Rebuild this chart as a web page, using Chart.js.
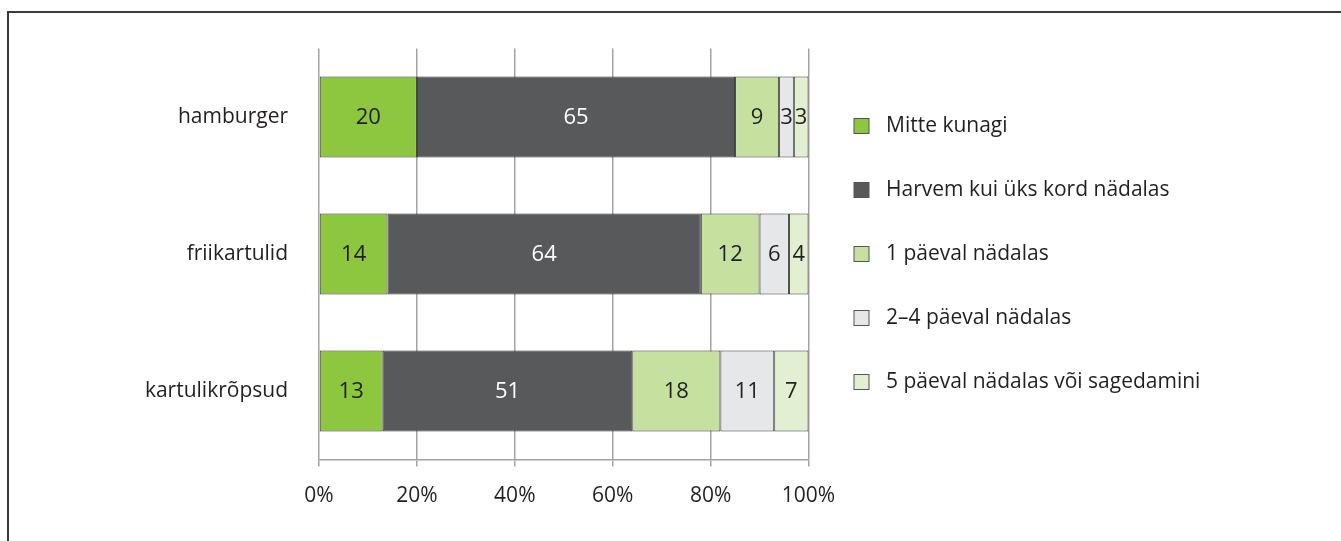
<!DOCTYPE html>
<html>
<head>
<meta charset="utf-8">
<script src="https://cdn.jsdelivr.net/npm/chart.js@4/dist/chart.umd.min.js"></script>
<style>
  html, body { margin: 0; padding: 0; background: #ffffff; }
  #wrap { position: relative; width: 1341px; height: 541px; overflow: hidden; }
  #frame { position: absolute; left: 7px; top: 11px; width: 1400px; height: 600px;
           border: 2px solid #3a3a3a; box-sizing: border-box; }
  canvas { position: absolute; left: 0; top: 0; }
</style>
</head>
<body>
<div id="wrap">
  <div id="frame"></div>
  <canvas id="c" width="1341" height="541"></canvas>
</div>
<script>
const categories = ['hamburger', 'friikartulid', 'kartulikrõpsud'];
const seriesNames = ['Mitte kunagi', 'Harvem kui üks kord nädalas', '1 päeval nädalas', '2–4 päeval nädalas', '5 päeval nädalas või sagedamini'];
const mitteKunagi = [20, 14, 13];
const harvem = [65, 64, 51];
const yksPaev = [9, 12, 18];
const kaksNeli = [3, 6, 11];
const viisPaeva = [3, 4, 7];
const xTicks = [0, 20, 40, 60, 80, 100];

const seriesValues = [mitteKunagi, harvem, yksPaev, kaksNeli, viisPaeva];
const colors = ['#8dc63f', '#58595b', '#c6e0a0', '#e6e7e9', '#e2efd1'];
const labelColors = ['#231f20', '#ffffff', '#231f20', '#231f20', '#231f20'];
const FONT = "'Open Sans', sans-serif";
const FS = 21;
const TEXT = '#231f20';

function swatch(fill) {
  const c = document.createElement('canvas');
  c.width = 24; c.height = 16;
  const g = c.getContext('2d');
  g.fillStyle = fill;
  g.fillRect(2.5, 0.5, 15, 15);
  g.strokeStyle = '#555555';
  g.lineWidth = 1;
  g.strokeRect(2.5, 0.5, 15, 15);
  return c;
}

const mctx = document.createElement('canvas').getContext('2d');
mctx.font = 'normal ' + FS + 'px ' + FONT;
let maxW = 0;
seriesNames.forEach(n => { maxW = Math.max(maxW, mctx.measureText(n).width); });
const LEG_PAD = 43;
const PSW = 24;
const legendW = LEG_PAD + PSW + FS / 2 + maxW + FS / 2;
const rightPad = Math.max(0, 1341 - 808 - legendW);

// let the right-hand legend take the width it needs
const legendWidthFix = {
  id: 'legendWidthFix',
  beforeLayout(chart) {
    const lg = chart.legend;
    if (lg && !lg._widthPatched) {
      const orig = lg.fit;
      lg.fit = function () { this.maxWidth = Math.max(this.maxWidth, 700); return orig.apply(this, arguments); };
      lg._widthPatched = true;
    }
  }
};

const valueLabels = {
  id: 'valueLabels',
  afterDatasetsDraw(chart) {
    const ctx = chart.ctx;
    ctx.save();
    ctx.font = 'normal 22px ' + FONT;
    ctx.textAlign = 'center';
    ctx.textBaseline = 'middle';
    chart.data.datasets.forEach((ds, di) => {
      const meta = chart.getDatasetMeta(di);
      meta.data.forEach((el, i) => {
        ctx.fillStyle = labelColors[di];
        ctx.fillText(String(ds.data[i]), (el.x + el.base) / 2, el.y + 1);
      });
    });
    ctx.restore();
  }
};

new Chart(document.getElementById('c'), {
  type: 'bar',
  data: {
    labels: categories,
    datasets: seriesValues.map((vals, i) => ({
      label: seriesNames[i],
      data: vals,
      backgroundColor: colors[i],
      borderColor: '#333333',
      borderWidth: 1,
      borderSkipped: false,
      barPercentage: 0.59,
      categoryPercentage: 1.0
    }))
  },
  options: {
    indexAxis: 'y',
    responsive: false,
    animation: false,
    devicePixelRatio: 1,
    layout: { padding: { top: 48.5, bottom: 21.5, left: 0, right: rightPad } },
    scales: {
      x: {
        stacked: true,
        min: 0,
        max: 100,
        afterBuildTicks(scale) { scale.ticks = xTicks.map(v => ({ value: v })); },
        afterFit(scale) { scale.height = 60; },
        ticks: {
          callback: v => v + '%',
          color: TEXT,
          font: { family: FONT, size: 21 },
          padding: 17,
          maxRotation: 0
        },
        grid: { color: '#a3a3a3', lineWidth: 1.5, tickLength: 7, drawTicks: true },
        border: { color: '#a3a3a3', width: 1.5 }
      },
      y: {
        stacked: true,
        afterFit(scale) { scale.width = 319; },
        ticks: {
          color: TEXT,
          font: { family: FONT, size: FS },
          padding: 31
        },
        grid: { display: false, drawTicks: false },
        border: { display: false }
      }
    },
    plugins: {
      legend: {
        position: 'right',
        fullSize: false,
        align: 'center',
        labels: {
          usePointStyle: true,
          pointStyleWidth: PSW,
          boxHeight: 16,
          padding: LEG_PAD,
          color: TEXT,
          font: { family: FONT, size: FS },
          generateLabels(chart) {
            const items = Chart.defaults.plugins.legend.labels.generateLabels(chart);
            items.forEach((it, i) => { it.pointStyle = swatch(colors[i]); });
            return items;
          }
        }
      },
      tooltip: { enabled: false }
    }
  },
  plugins: [legendWidthFix, valueLabels]
});
</script>
</body>
</html>
